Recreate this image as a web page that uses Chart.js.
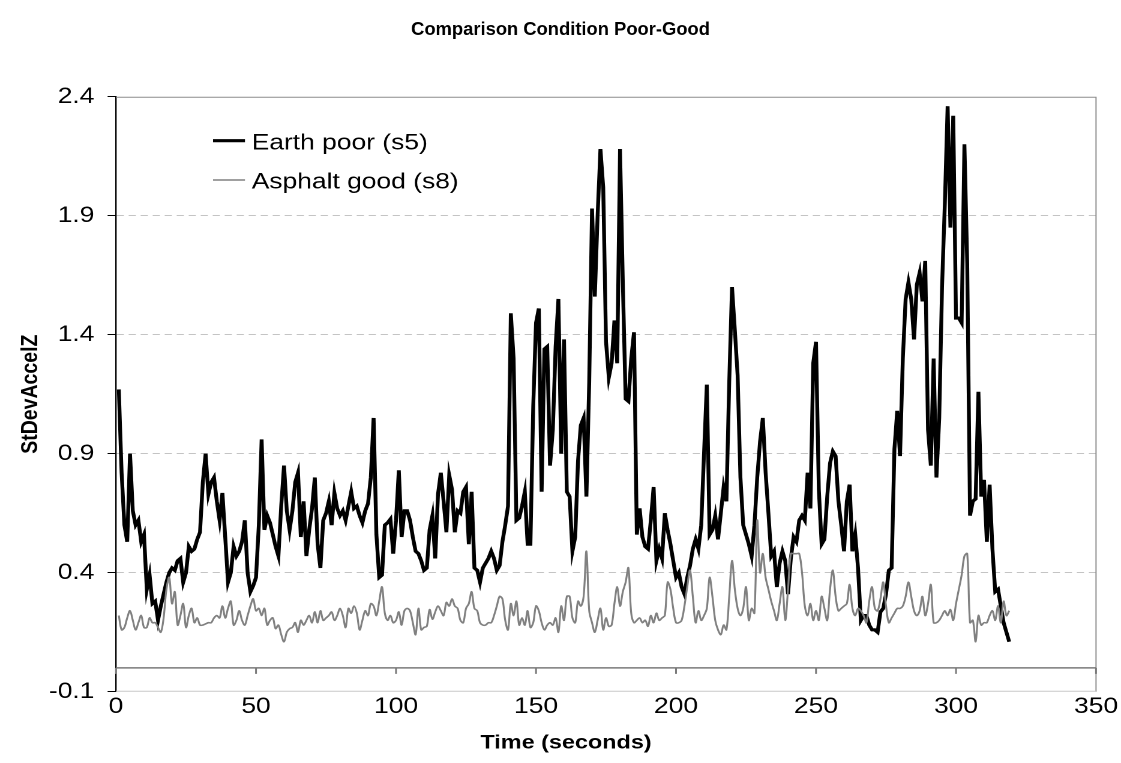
<!DOCTYPE html>
<html>
<head>
<meta charset="utf-8">
<title>Comparison Condition Poor-Good</title>
<script src="https://cdn.jsdelivr.net/npm/chart.js@4/dist/chart.umd.min.js"></script>
<style>
  html, body { margin: 0; padding: 0; background: #fff; overflow: hidden; }
  /* the chart is laid out narrow and widened, so the text gets the same wide look */
  #wrap { width: 934px; height: 763px; transform: scaleX(1.2002); transform-origin: 0 0; }
</style>
</head>
<body>
<div id="wrap"><canvas id="grafico" width="934" height="763"></canvas></div>
<script>
// one reading per second, starting at second 1
const firstSecond = 1;

const earthPoor = [
  1.17, 0.82, 0.60, 0.53, 0.90, 0.66, 0.60, 0.62, 0.53, 0.56,
  0.33, 0.39, 0.27, 0.28, 0.20, 0.26, 0.31, 0.36, 0.40, 0.42,
  0.41, 0.45, 0.46, 0.36, 0.40, 0.51, 0.49, 0.50, 0.54, 0.57,
  0.78, 0.90, 0.73, 0.78, 0.80, 0.70, 0.62, 0.735, 0.55, 0.36,
  0.40, 0.51, 0.47, 0.49, 0.53, 0.62, 0.40, 0.32, 0.345, 0.38,
  0.60, 0.96, 0.58, 0.64, 0.61, 0.56, 0.51, 0.47, 0.68, 0.85,
  0.66, 0.58, 0.66, 0.78, 0.82, 0.55, 0.70, 0.47, 0.58, 0.67,
  0.80, 0.52, 0.42, 0.62, 0.65, 0.70, 0.60, 0.735, 0.67, 0.64,
  0.66, 0.62, 0.68, 0.74, 0.67, 0.68, 0.64, 0.61, 0.66, 0.69,
  0.80, 1.05, 0.56, 0.38, 0.39, 0.60, 0.61, 0.625, 0.48, 0.62,
  0.83, 0.55, 0.66, 0.66, 0.62, 0.55, 0.49, 0.48, 0.45, 0.41,
  0.42, 0.58, 0.64, 0.46, 0.73, 0.82, 0.70, 0.57, 0.81, 0.75,
  0.57, 0.66, 0.65, 0.74, 0.76, 0.52, 0.74, 0.42, 0.41, 0.36,
  0.42, 0.44, 0.46, 0.49, 0.46, 0.41, 0.43, 0.53, 0.60, 0.68,
  1.49, 1.30, 0.62, 0.63, 0.68, 0.74, 0.52, 0.52, 1.10, 1.45,
  1.51, 0.74, 1.34, 1.35, 0.85, 1.00, 1.35, 1.55, 0.90, 1.38,
  0.74, 0.72, 0.49, 0.55, 0.87, 1.02, 1.05, 0.72, 1.20, 1.93,
  1.56, 1.90, 2.18, 2.02, 1.37, 1.22, 1.28, 1.46, 1.28, 2.18,
  1.62, 1.13, 1.12, 1.30, 1.41, 0.56, 0.67, 0.55, 0.51, 0.50,
  0.62, 0.76, 0.45, 0.50, 0.46, 0.65, 0.58, 0.52, 0.45, 0.38,
  0.40, 0.34, 0.31, 0.38, 0.43, 0.50, 0.54, 0.50, 0.60, 0.90,
  1.19, 0.56, 0.58, 0.64, 0.54, 0.65, 0.76, 0.70, 1.20, 1.60,
  1.42, 1.23, 0.80, 0.60, 0.56, 0.52, 0.47, 0.60, 0.80, 0.95,
  1.05, 0.82, 0.65, 0.47, 0.49, 0.34, 0.44, 0.49, 0.45, 0.31,
  0.46, 0.55, 0.53, 0.62, 0.64, 0.62, 0.82, 0.67, 1.28, 1.37,
  0.75, 0.52, 0.54, 0.72, 0.86, 0.91, 0.89, 0.70, 0.60, 0.49,
  0.70, 0.77, 0.49, 0.56, 0.42, 0.20, 0.22, 0.22, 0.18, 0.16,
  0.16, 0.15, 0.235, 0.25, 0.31, 0.41, 0.42, 0.92, 1.08, 0.89,
  1.30, 1.55, 1.62, 1.55, 1.38, 1.61, 1.66, 1.54, 1.71, 1.00,
  0.85, 1.30, 0.80, 1.05, 1.60, 1.95, 2.36, 1.85, 2.32, 1.47,
  1.47, 1.45, 2.20, 1.70, 0.64, 0.70, 0.71, 1.16, 0.72, 0.79,
  0.53, 0.77, 0.50, 0.32, 0.33, 0.26, 0.19, 0.15, 0.11
];

const asphaltGood = [
  0.22, 0.16, 0.17, 0.21, 0.24, 0.20, 0.16, 0.19, 0.22, 0.17,
  0.17, 0.21, 0.19, 0.19, 0.17, 0.15, 0.21, 0.33, 0.38, 0.27,
  0.32, 0.18, 0.22, 0.27, 0.17, 0.22, 0.25, 0.19, 0.21, 0.18,
  0.18, 0.185, 0.19, 0.19, 0.21, 0.22, 0.21, 0.26, 0.21, 0.25,
  0.28, 0.18, 0.20, 0.24, 0.20, 0.18, 0.22, 0.26, 0.29, 0.24,
  0.25, 0.22, 0.25, 0.18, 0.20, 0.21, 0.165, 0.18, 0.14, 0.11,
  0.15, 0.165, 0.17, 0.19, 0.15, 0.20, 0.18, 0.20, 0.22, 0.19,
  0.235, 0.19, 0.24, 0.20, 0.21, 0.22, 0.235, 0.20, 0.22, 0.25,
  0.22, 0.17, 0.25, 0.23, 0.26, 0.23, 0.16, 0.20, 0.24, 0.22,
  0.27, 0.26, 0.22, 0.28, 0.34, 0.23, 0.20, 0.22, 0.19, 0.20,
  0.235, 0.18, 0.24, 0.25, 0.24, 0.19, 0.14, 0.25, 0.16, 0.17,
  0.175, 0.245, 0.205, 0.235, 0.26, 0.24, 0.22, 0.275, 0.26, 0.29,
  0.26, 0.25, 0.20, 0.19, 0.25, 0.27, 0.32, 0.25, 0.24, 0.19,
  0.18, 0.18, 0.19, 0.19, 0.22, 0.26, 0.30, 0.29, 0.20, 0.16,
  0.27, 0.22, 0.28, 0.18, 0.21, 0.18, 0.24, 0.17, 0.19, 0.26,
  0.24, 0.19, 0.16, 0.18, 0.19, 0.18, 0.21, 0.15, 0.26, 0.20,
  0.30, 0.30, 0.21, 0.19, 0.28, 0.26, 0.30, 0.49, 0.24, 0.19,
  0.15, 0.20, 0.25, 0.16, 0.21, 0.175, 0.18, 0.27, 0.34, 0.26,
  0.32, 0.36, 0.42, 0.23, 0.19, 0.20, 0.21, 0.19, 0.20, 0.175,
  0.22, 0.19, 0.23, 0.20, 0.21, 0.22, 0.36, 0.33, 0.25, 0.19,
  0.19, 0.20, 0.26, 0.34, 0.41, 0.30, 0.19, 0.24, 0.20, 0.22,
  0.25, 0.38, 0.30, 0.20, 0.16, 0.14, 0.18, 0.16, 0.30, 0.45,
  0.33, 0.25, 0.22, 0.25, 0.34, 0.20, 0.25, 0.23, 0.62, 0.40,
  0.48, 0.38, 0.33, 0.28, 0.24, 0.20, 0.27, 0.34, 0.20, 0.33,
  0.48, 0.48, 0.48, 0.48, 0.40, 0.26, 0.22, 0.27, 0.20, 0.24,
  0.20, 0.30, 0.25, 0.20, 0.33, 0.41, 0.30, 0.24, 0.25, 0.26,
  0.27, 0.35, 0.25, 0.22, 0.25, 0.24, 0.22, 0.19, 0.28, 0.34,
  0.25, 0.24, 0.29, 0.36, 0.26, 0.19, 0.21, 0.23, 0.25, 0.25,
  0.26, 0.30, 0.36, 0.30, 0.24, 0.22, 0.24, 0.30, 0.22, 0.27,
  0.35, 0.19, 0.19, 0.20, 0.22, 0.24, 0.22, 0.245, 0.20, 0.27,
  0.33, 0.39, 0.47, 0.48, 0.19, 0.20, 0.11, 0.22, 0.18, 0.19,
  0.19, 0.22, 0.24, 0.20, 0.26, 0.19, 0.28, 0.22, 0.24
];

const timeTicks = [0, 50, 100, 150, 200, 250, 300, 350];
const valueTicks = [-0.1, 0.4, 0.9, 1.4, 1.9, 2.4];

const STRETCH = 1.2002;
const FONT = '"Liberation Sans", Arial, Helvetica, sans-serif';
Chart.defaults.font.family = FONT;
Chart.defaults.color = '#000';

const toPoints = values => values.map((v, i) => ({ x: firstSecond + i, y: v }));

// plot frame plus the horizontal axis, which crosses at zero
const frame = {
  id: 'frame',
  beforeDatasetsDraw(chart) {
    const { ctx, chartArea: a, scales: { x, y } } = chart;
    ctx.save();
    ctx.lineWidth = 1;
    ctx.strokeStyle = '#8c8c8c';
    ctx.beginPath();
    ctx.moveTo(a.left, a.top + 0.5);
    ctx.lineTo(a.right, a.top + 0.5);
    ctx.lineTo(a.right, a.bottom);
    ctx.stroke();
    ctx.strokeStyle = '#c8c8c8';
    ctx.beginPath();
    ctx.moveTo(a.left, a.bottom - 0.5);
    ctx.lineTo(a.right, a.bottom - 0.5);
    ctx.stroke();

    const y0 = y.getPixelForValue(0);
    ctx.strokeStyle = '#7a7a7a';
    ctx.lineWidth = 1.5;
    ctx.beginPath();
    ctx.moveTo(a.left, y0);
    ctx.lineTo(a.right, y0);
    timeTicks.forEach(t => {
      const px = x.getPixelForValue(t);
      ctx.moveTo(px, y0);
      ctx.lineTo(px, y0 + 6);
    });
    ctx.stroke();
    ctx.restore();
  }
};

// legend inside the plot, top left, no box
const innerLegend = {
  id: 'innerLegend',
  afterDatasetsDraw(chart, args, opts) {
    const { ctx } = chart;
    ctx.save();
    ctx.font = opts.size + 'px ' + FONT;
    ctx.fillStyle = '#000';
    ctx.textBaseline = 'alphabetic';
    ctx.textAlign = 'left';
    chart.data.datasets.forEach((ds, i) => {
      const ly = opts.y + i * opts.rowGap;
      ctx.strokeStyle = ds.borderColor;
      ctx.lineWidth = ds.borderWidth;
      ctx.beginPath();
      ctx.moveTo(opts.x, ly);
      ctx.lineTo(opts.x + opts.sample, ly);
      ctx.stroke();
      ctx.fillText(ds.label, opts.x + opts.sample + opts.gap, ly + opts.baseline);
    });
    ctx.restore();
  }
};

// chart title and time-axis title, centred on the whole figure
const captions = {
  id: 'captions',
  afterDraw(chart, args, opts) {
    const { ctx } = chart;
    opts.items.forEach(c => {
      ctx.save();
      ctx.translate(c.x, c.y);
      ctx.scale(c.sx, 1);
      ctx.font = 'bold ' + c.size + 'px ' + FONT;
      ctx.fillStyle = '#000';
      ctx.textAlign = 'center';
      ctx.textBaseline = 'middle';
      ctx.fillText(c.text, 0, 0);
      ctx.restore();
    });
  }
};

const config = {
  type: 'line',
  data: {
    datasets: [
      {
        label: 'Earth poor (s5)',
        data: toPoints(earthPoor),
        borderColor: '#000000',
        borderWidth: 3.2,
        pointRadius: 0,
        tension: 0,
        order: 2
      },
      {
        label: 'Asphalt good (s8)',
        data: toPoints(asphaltGood),
        borderColor: '#808080',
        borderWidth: 1.6,
        pointRadius: 0,
        tension: 0.35,
        order: 1
      }
    ]
  },
  options: {
    responsive: false,
    animation: false,
    devicePixelRatio: 2,
    events: [],
    layout: { padding: { left: 0, right: 20.8, top: 96.7, bottom: 31.7 } },
    plugins: {
      legend: { display: false },
      tooltip: { enabled: false },
      title: { display: false },
      innerLegend: { x: 177.5, y: 140.7, rowGap: 39.3, sample: 26.6, gap: 5.6, baseline: 8.6, size: 22 },
      captions: {
        items: [
          { text: 'Comparison Condition Poor-Good', x: 560.5 / STRETCH, y: 30, size: 18, sx: 1.02 / STRETCH },
          { text: 'Time (seconds)', x: 566 / STRETCH, y: 743, size: 19.5, sx: 1 }
        ]
      }
    },
    scales: {
      x: {
        type: 'linear',
        min: 0,
        max: 350,
        afterBuildTicks: s => { s.ticks = timeTicks.map(v => ({ value: v })); },
        afterFit: s => { s.height = 39.6; },
        ticks: { color: '#000', font: { size: 22 }, padding: 2, maxRotation: 0 },
        grid: { display: false, drawTicks: false },
        border: { display: false }
      },
      y: {
        min: -0.1,
        max: 2.4,
        afterBuildTicks: s => { s.ticks = valueTicks.map(v => ({ value: v })); },
        afterFit: s => { s.width = 96.65; },
        ticks: {
          color: '#000',
          font: { size: 22 },
          padding: 11,
          callback: v => v.toFixed(1)
        },
        grid: {
          color: c => (c.tick && (c.tick.value === valueTicks[0] || c.tick.value === valueTicks[valueTicks.length - 1]))
            ? 'rgba(0,0,0,0)' : '#c4c4c4',
          lineWidth: 1,
          tickColor: '#000',
          tickLength: 7
        },
        border: { display: true, color: '#000', width: 1.2, dash: [6, 4] },
        title: {
          display: true,
          text: 'StDevAccelZ',
          color: '#000',
          font: { size: 19.5, weight: 'bold' },
          padding: { top: 14, bottom: 0 }
        }
      }
    }
  },
  plugins: [frame, innerLegend, captions]
};

const myChart = new Chart(document.getElementById('grafico'), config);
</script>
</body>
</html>
